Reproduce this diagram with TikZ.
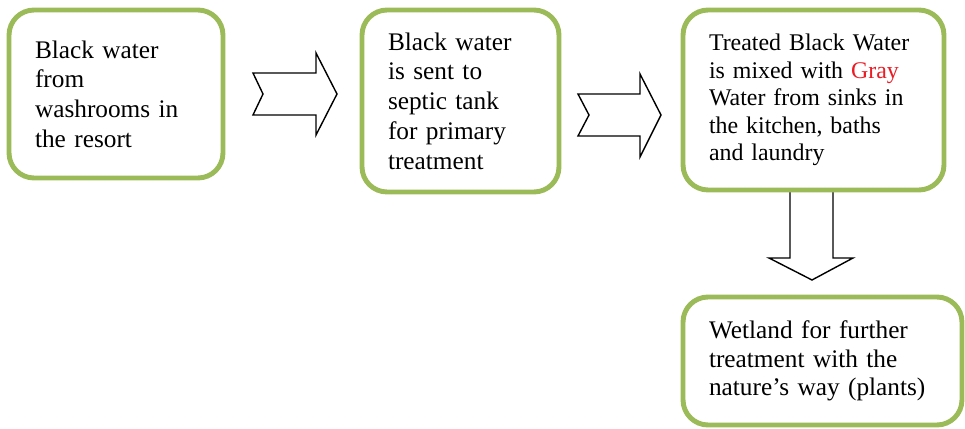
\documentclass[tikz,border=0pt]{standalone}
\usepackage{fontspec}
\setmainfont{Liberation Serif}
\usepackage{tikz}
\definecolor{stagegreen}{RGB}{155,187,89}
\definecolor{grayred}{RGB}{237,28,36}
\tikzset{
	stage/.style={draw=stagegreen, line width=2.8pt, rounded corners=0.5cm, fill=white,
		align=left, inner xsep=0.52cm, inner ysep=0pt},
	blockarrow/.style={draw=black, line width=0.8pt, fill=white, line join=miter}
}

\begin{document}
\begin{tikzpicture}[x=0.02cm, y=-0.02cm]
	\useasboundingbox (0,0) rectangle (965,429);
	
	%arrows
	\draw[blockarrow] (253,73)--(316,73)--(316,53)--(337,94)--(316,135)--(316,115)--(253,115)--(263,94)--cycle;
	\draw[blockarrow] (578,94)--(640,94)--(640,74)--(661,115)--(640,157)--(640,136)--(578,136)--(589,115)--cycle;
	\draw[blockarrow] (790,188)--(833,188)--(833,258)--(853,258)--(812,280)--(769,258)--(790,258)--cycle;
	
	%boxes
	\node[stage, text width=3.24cm, minimum width=4.28cm, minimum height=3.36cm,
		font=\fontsize{14.4}{16.9}\selectfont] (source) at (116,94)
		{Black water\\ from\\ washrooms in\\ the resort};
	\node[stage, text width=2.9cm, minimum width=3.94cm, minimum height=3.64cm,
		font=\fontsize{14.4}{16.9}\selectfont] (septic) at (460.5,101)
		{Black water\\ is sent to\\ septic tank\\ for primary\\ treatment};
	\node[stage, text width=4.18cm, minimum width=5.22cm, minimum height=3.6cm,
		font=\fontsize{13.6}{15.7}\selectfont] (mixed) at (813.5,100)
		{Treated Black Water\\ is mixed with \textcolor{grayred}{Gray}\\ Water from sinks in\\ the kitchen, baths\\ and laundry};
	\node[stage, text width=4.54cm, minimum width=5.58cm, minimum height=2.56cm,
		font=\fontsize{14.4}{16.1}\selectfont] (wetland) at (822.5,361)
		{Wetland for further\\ treatment with the\\ nature’s way (plants)};
\end{tikzpicture}
\end{document}
